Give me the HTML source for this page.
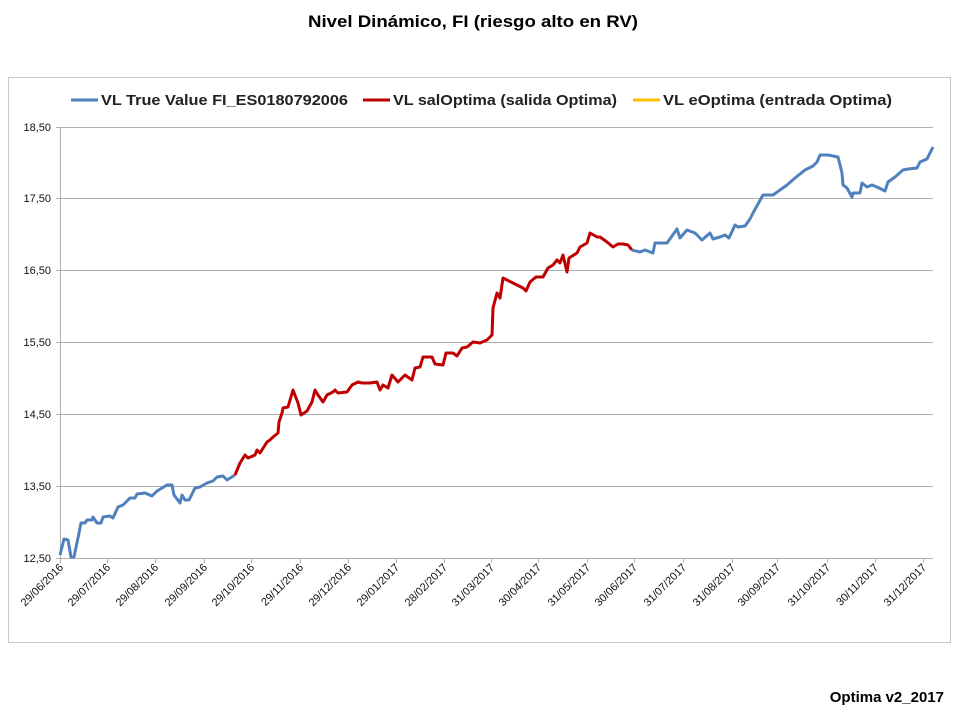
<!DOCTYPE html>
<html><head><meta charset="utf-8"><style>
body{margin:0;background:#fff;}
svg{display:block;font-family:"Liberation Sans",sans-serif;}
</style></head><body>
<svg width="960" height="720" viewBox="0 0 960 720">
<rect width="960" height="720" fill="#fff"/>
<text x="308" y="27" font-size="17" font-weight="bold" textLength="330" lengthAdjust="spacingAndGlyphs">Nivel Dinámico, FI (riesgo alto en RV)</text>
<rect x="8.5" y="77.5" width="942" height="565" fill="#fff" stroke="#c8c8c8"/>
<g font-size="15" font-weight="bold" fill="#222">
<line x1="71" y1="100" x2="98" y2="100" stroke="#4f81bd" stroke-width="3"/>
<text x="101" y="105" textLength="247" lengthAdjust="spacingAndGlyphs">VL True Value FI_ES0180792006</text>
<line x1="363" y1="100" x2="390" y2="100" stroke="#c00000" stroke-width="3"/>
<text x="393" y="105" textLength="224" lengthAdjust="spacingAndGlyphs">VL salOptima (salida Optima)</text>
<line x1="633" y1="100" x2="660" y2="100" stroke="#ffc000" stroke-width="3"/>
<text x="663" y="105" textLength="229" lengthAdjust="spacingAndGlyphs">VL eOptima (entrada Optima)</text>
</g>
<g stroke="#b0b0b0" stroke-width="1">
<line x1="56" y1="127.5" x2="933" y2="127.5"/>
<line x1="56" y1="198.5" x2="933" y2="198.5"/>
<line x1="56" y1="270.5" x2="933" y2="270.5"/>
<line x1="56" y1="342.5" x2="933" y2="342.5"/>
<line x1="56" y1="414.5" x2="933" y2="414.5"/>
<line x1="56" y1="486.5" x2="933" y2="486.5"/>
<line x1="56" y1="558.5" x2="933" y2="558.5"/>
<line x1="60.5" y1="127" x2="60.5" y2="558"/>
</g>
<g stroke="#b0b0b0"><path d="M60.5 558v5M107.5 558v5M155.5 558v5M204.5 558v5M251.5 558v5M300.5 558v5M348.5 558v5M396.5 558v5M444.5 558v5M491.5 558v5M538.5 558v5M587.5 558v5M634.5 558v5M683.5 558v5M732.5 558v5M777.5 558v5M827.5 558v5M875.5 558v5M923.5 558v5"/></g>
<g font-size="11" text-anchor="end" fill="#111">
<text x="51" y="131">18,50</text><text x="51" y="202">17,50</text><text x="51" y="274">16,50</text>
<text x="51" y="346">15,50</text><text x="51" y="418">14,50</text><text x="51" y="490">13,50</text><text x="51" y="562">12,50</text>
</g>
<g font-size="11" text-anchor="end" fill="#111">
<text transform="translate(64,568) rotate(-45)">29/06/2016</text>
<text transform="translate(111,568) rotate(-45)">29/07/2016</text>
<text transform="translate(159,568) rotate(-45)">29/08/2016</text>
<text transform="translate(208,568) rotate(-45)">29/09/2016</text>
<text transform="translate(255,568) rotate(-45)">29/10/2016</text>
<text transform="translate(304,568) rotate(-45)">29/11/2016</text>
<text transform="translate(352,568) rotate(-45)">29/12/2016</text>
<text transform="translate(400,568) rotate(-45)">29/01/2017</text>
<text transform="translate(448,568) rotate(-45)">28/02/2017</text>
<text transform="translate(495,568) rotate(-45)">31/03/2017</text>
<text transform="translate(542,568) rotate(-45)">30/04/2017</text>
<text transform="translate(591,568) rotate(-45)">31/05/2017</text>
<text transform="translate(638,568) rotate(-45)">30/06/2017</text>
<text transform="translate(687,568) rotate(-45)">31/07/2017</text>
<text transform="translate(736,568) rotate(-45)">31/08/2017</text>
<text transform="translate(781,568) rotate(-45)">30/09/2017</text>
<text transform="translate(831,568) rotate(-45)">31/10/2017</text>
<text transform="translate(879,568) rotate(-45)">30/11/2017</text>
<text transform="translate(927,568) rotate(-45)">31/12/2017</text>
</g>
<g fill="none" stroke-width="3" stroke-linejoin="round">
<polyline stroke="#4f81bd" points="60,555 64,539 68,540 71,557 74,557 79,533 81,523 85,523 87,520 92,520 93,517 97,523 101,523 103,517 110,516 113,518 118,507 123,505 130,498 135,498 137,494 145,493 152,496 157,491 167,485 172,485 174,495 180,503 182,495 185,500 189,500 195,488 200,487 207,483 213,481 217,477 223,476 227,480 235,475"/>
<polyline stroke="#c00000" points="235,475 240,463 245,455 248,458 255,455 257,450 260,453 267,442 270,440 273,437 278,433 279,422 282,413 283,408 288,407 293,390 298,403 301,415 307,411 312,402 315,390 318,395 323,402 327,395 333,392 335,390 338,393 347,392 352,385 358,382 362,383 370,383 377,382 380,390 383,385 388,388 392,375 398,382 405,375 412,380 415,368 420,367 423,357 432,357 435,364 443,365 446,353 453,353 457,356 462,348 467,347 473,342 480,343 487,340 492,335 493,308 497,293 500,298 503,278 513,283 523,288 526,291 530,282 536,277 543,277 548,268 553,265 557,260 560,263 563,255 567,272 569,258 577,253 580,247 587,243 590,233 597,237 600,237 607,242 613,247 618,244 623,244 628,245 632,250"/>
<polyline stroke="#4f81bd" points="632,250 640,252 645,250 653,253 655,243 667,243 677,229 680,238 687,230 695,233 702,240 710,233 713,239 720,237 725,235 729,238 735,225 738,227 745,226 750,219 753,213 763,195 773,195 780,190 787,185 795,178 805,170 813,166 817,162 820,155 828,155 838,157 842,173 843,185 847,188 852,197 853,193 860,193 862,183 867,187 872,185 877,187 885,191 888,182 895,177 903,170 908,169 917,168 920,162 927,159 933,147"/>
</g>
<text x="944" y="702" text-anchor="end" font-size="15" font-weight="bold">Optima v2_2017</text>
</svg>
</body></html>
